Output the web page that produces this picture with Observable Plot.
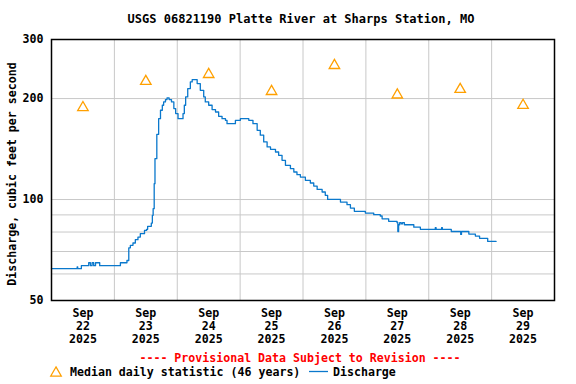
<!DOCTYPE html>
<html>
<head>
<meta charset="utf-8">
<script src="https://cdn.jsdelivr.net/npm/d3@7"></script>
<script src="https://cdn.jsdelivr.net/npm/@observablehq/plot@0.6"></script>
<style>
  html, body { margin: 0; padding: 0; background: #fff; }
  #chart { position: relative; width: 576px; height: 384px; }
</style>
</head>
<body>
<div id="chart"></div>
<script>
// ---- Data ----
const title = "USGS 06821190 Platte River at Sharps Station, MO";
const yLabel = "Discharge, cubic feet per second";
const provisional = "---- Provisional Data Subject to Revision ----";
const medianLabel = "Median daily statistic (46 years)";
const dischargeLabel = "Discharge";

const medianDates = ["2025-09-22T12:00Z","2025-09-23T12:00Z","2025-09-24T12:00Z","2025-09-25T12:00Z",
                     "2025-09-26T12:00Z","2025-09-27T12:00Z","2025-09-28T12:00Z","2025-09-29T12:00Z"];
const medianValues = [188, 225, 236, 210, 251, 205, 213, 191];

// hours since 2025-09-22 00:00
const qHours = [0.0, 9.5, 9.8, 10.0, 11.4, 14.2, 14.85, 15.5, 16.1, 16.8, 18.4, 26.3, 28.8, 29.5, 30.1,
  31.1, 32.0, 33.0, 33.9, 35.5, 36.3, 36.7, 38.1, 38.5, 38.8, 39.2, 39.5, 40.2, 40.9, 41.6, 42.3, 42.8,
  43.5, 44.1, 44.9, 45.8, 46.7, 47.4, 48.3, 49.8, 50.2, 50.7, 51.2, 52.0, 53.0, 53.7, 54.5, 55.6, 56.8,
  58.1, 58.7, 60.0, 61.3, 62.6, 63.8, 65.1, 66.4, 67.0, 69.3, 70.2, 71.5, 72.1, 74.0, 75.3, 76.9, 78.5,
  79.7, 81.0, 82.3, 83.6, 85.5, 86.7, 88.0, 89.3, 91.2, 92.5, 93.7, 95.0, 96.9, 98.8, 100.1, 101.4,
  103.3, 104.5, 105.4, 110.0, 110.3, 112.8, 114.1, 115.6, 119.2, 119.8, 123.0, 125.5, 126.2, 128.7,
  131.9, 132.2, 132.5, 132.9, 133.5, 134.0, 134.7, 138.0, 138.3, 140.8, 146.5, 146.8, 148.9, 149.2,
  152.6, 156.1, 156.2, 156.5, 158.6, 159.3, 161.8, 163.4, 166.5, 169.7];
const qValues = [62.2, 62.2, 63.0, 62.2, 63.5, 64.8, 63.5, 64.8, 63.5, 64.8, 63.5, 64.8, 65.8, 71.8, 73.0,
  74.2, 75.9, 77.3, 79.1, 80.9, 81.5, 83.2, 85.1, 89.7, 93.9, 111.5, 132.4, 156.5, 174.2, 184.6, 191, 195.5,
  198.6, 200.9, 198.6, 195.5, 186.7, 180.4, 174.2, 174.2, 180.4, 191, 202.3, 214.2, 224.2, 227.8, 227.8, 221.7, 211.7,
  202.3, 195.5, 191, 185.4, 182.4, 177.1, 174.2, 172.2, 168.3, 168.3, 172.2, 172.2, 174.2, 174.2, 172.2, 168.3, 160.8,
  155.5, 148.5, 143.5, 141.2, 138.6, 135.5, 130.9, 126.5, 123.6, 120.8, 118.6, 116.7, 114.1, 112.0, 109.7, 107.2,
  105.3, 102.9, 100.1, 100.1, 98.3, 96.5, 94.3, 92.2, 92.2, 91.1, 90.1, 89.3, 87.6, 86.1,
  85.3, 80.3, 84.1, 85.3, 84.6, 85.3, 84.1, 84.1, 82.7, 81.5, 82.4, 81.5, 82.4, 81.5,
  80.3, 80.3, 78.7, 80.3, 80.3, 78.9, 77.8, 76.6, 75.0, 75.0];

const yTicks = [50, 100, 200, 300];
const yGrid = [60, 70, 80, 90, 100, 200];
const dayGrid = ["2025-09-23","2025-09-24","2025-09-25","2025-09-26","2025-09-27","2025-09-28","2025-09-29"];
const xDomain = ["2025-09-22T00:00Z", "2025-09-30T00:00Z"];

// ---- Build tables ----
const t0 = new Date("2025-09-22T00:00Z").getTime();
const discharge = qHours.map((h, i) => ({date: new Date(t0 + h * 3600e3), value: qValues[i]}));
const medians = medianDates.map((d, i) => ({date: new Date(d), value: medianValues[i]}));
const gridDates = dayGrid.map(d => new Date(d + "T00:00Z"));

const FONT = "'DejaVu Sans Mono', monospace";
const ORANGE = "#ffa000";
const BLUE = "#0a78cc";
const fmtMon = d3.utcFormat("%b"), fmtDay = d3.utcFormat("%d"), fmtYr = d3.utcFormat("%Y");

const plot = Plot.plot({
  width: 576,
  height: 384,
  marginLeft: 51,
  marginRight: 22,
  marginTop: 39,
  marginBottom: 84,
  style: {fontFamily: FONT, fontSize: "11.6px", fontWeight: "bold", color: "#000", background: "#fff"},
  x: {type: "utc", domain: xDomain.map(d => new Date(d))},
  y: {type: "log", domain: [50, 300]},
  marks: [
    Plot.ruleX(gridDates, {stroke: "#c8c8c8", strokeWidth: 1, strokeOpacity: 1}),
    Plot.ruleY(yGrid, {stroke: "#c8c8c8", strokeWidth: 1, strokeOpacity: 1}),
    Plot.line(discharge, {x: "date", y: "value", stroke: BLUE, strokeWidth: 1.3, curve: "step-after"}),
    Plot.dot(medians, {x: "date", y: "value", symbol: "triangle", r: 3.9, stroke: ORANGE, strokeWidth: 1.3, fill: "none"}),
    Plot.frame({stroke: "#000", strokeWidth: 1.5}),
    Plot.axisX({
      ticks: medians.map(d => d.date),
      tickFormat: d => `${fmtMon(d)}\n${fmtDay(d)}\n${fmtYr(d)}`,
      tickSize: 0, tickPadding: 7, lineHeight: 1.13, label: null,
      fontSize: 11.6, fontWeight: "bold"
    }),
    Plot.axisY({
      ticks: yTicks, tickFormat: d => String(d), tickSize: 0, tickPadding: 8, label: null,
      fontSize: 11.6, fontWeight: "bold"
    })
  ]
});

document.getElementById("chart").appendChild(plot);

// ---- Title, axis label and legend (text added to the same SVG) ----
const svg = d3.select(plot);
function addText(x, y, str, opts = {}) {
  const t = svg.append("text")
    .attr("x", x).attr("y", y)
    .attr("text-anchor", opts.anchor || "start")
    .attr("dominant-baseline", "middle")
    .attr("fill", opts.fill || "#000")
    .style("font-family", FONT)
    .style("font-size", opts.size || "11.6px")
    .style("font-weight", "bold")
    .text(str);
  if (opts.transform) t.attr("transform", opts.transform);
  return t;
}
addText(301, 19, title, {anchor: "middle", size: "12px"});
addText(0, 0, yLabel, {anchor: "middle", transform: "translate(12,174) rotate(-90)"});
addText(300, 358, provisional, {anchor: "middle", fill: "#ff0000"});
const tri = d3.symbol(d3.symbolTriangle, Math.PI * 3.9 * 3.9)();
svg.append("path").attr("d", tri).attr("transform", "translate(56,373)")
  .attr("fill", "none").attr("stroke", ORANGE).attr("stroke-width", 1.3);
addText(70, 372, medianLabel);
svg.append("line").attr("x1", 309).attr("x2", 328).attr("y1", 371.5).attr("y2", 371.5)
  .attr("stroke", BLUE).attr("stroke-width", 1.3);
addText(333, 372, dischargeLabel);
</script>
</body>
</html>
